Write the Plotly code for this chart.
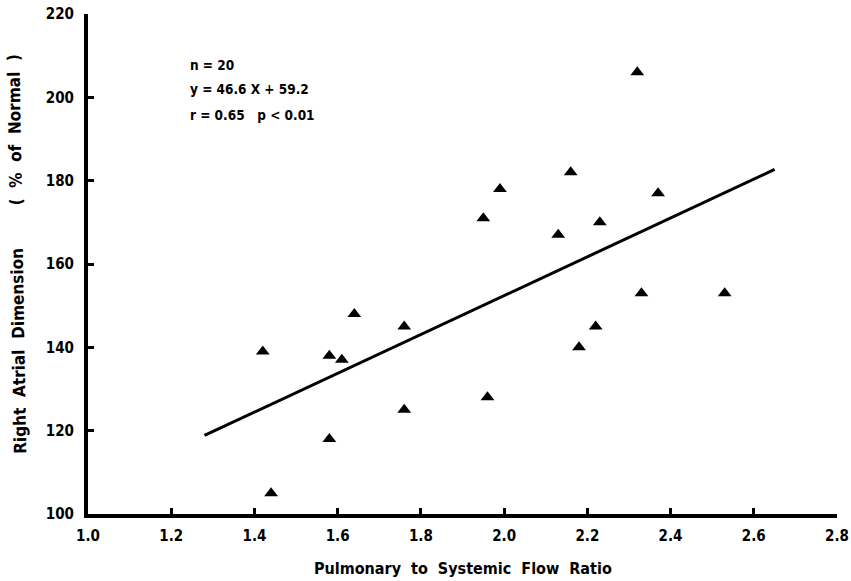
import plotly.graph_objects as go

# Data
flow_ratio = [1.64, 1.76, 1.42, 1.58, 1.61, 1.96, 1.76, 1.58, 1.44, 2.32,
              2.16, 1.99, 2.37, 1.95, 2.23, 2.13, 2.33, 2.53, 2.22, 2.18]
ra_dimension = [148, 145, 139, 138, 137, 128, 125, 118, 105, 206,
                182, 178, 177, 171, 170, 167, 153, 153, 145, 140]

slope = 46.6
intercept = 59.2
fit_x_range = [1.28, 2.65]
fit_y = [slope * x + intercept for x in fit_x_range]

x_ticks = [1.0, 1.2, 1.4, 1.6, 1.8, 2.0, 2.2, 2.4, 2.6, 2.8]
x_tick_labels = ["1.0", "1.2", "1.4", "1.6", "1.8", "2.0", "2.2", "2.4", "2.6", "2.8"]
y_ticks = [100, 120, 140, 160, 180, 200, 220]

stats_lines = ["n = 20", "y = 46.6 X + 59.2", "r = 0.65   p < 0.01"]

FONT = "DejaVu Sans Condensed, Liberation Sans Narrow, Arial Narrow, Liberation Sans, sans-serif"

fig = go.Figure()
fig.add_trace(go.Scatter(x=fit_x_range, y=fit_y, mode="lines",
                         line=dict(color="black", width=3),
                         showlegend=False, hoverinfo="skip"))
fig.add_trace(go.Scatter(x=flow_ratio, y=ra_dimension, mode="markers",
                         marker=dict(symbol="triangle-up", size=12, color="black"),
                         showlegend=False))

fig.update_layout(
    width=851, height=581,
    margin=dict(l=88, r=14, t=14, b=67, autoexpand=False),
    paper_bgcolor="white", plot_bgcolor="white",
    font=dict(family=FONT, size=14, color="black"),
    xaxis=dict(range=[1.0, 2.8], tickvals=x_ticks, ticktext=x_tick_labels,
               showline=True, linecolor="black", linewidth=3.5,
               ticks="inside", ticklen=6, tickwidth=2.5, tickcolor="black",
               showgrid=False, zeroline=False, automargin=False,
               tickfont=dict(family=FONT, size=15, color="black", weight="bold"),
               ticklabelstandoff=5),
    yaxis=dict(range=[100, 220], tickvals=y_ticks,
               showline=True, linecolor="black", linewidth=4,
               ticks="inside", ticklen=6, tickwidth=2.5, tickcolor="black",
               showgrid=False, zeroline=False, automargin=False,
               tickfont=dict(family=FONT, size=15, color="black", weight="bold"),
               ticklabelstandoff=7),
)

# Axis titles as annotations for precise placement
fig.add_annotation(text="Pulmonary  to  Systemic  Flow  Ratio",
                   xref="paper", yref="paper", x=0.50, y=-0.085,
                   xanchor="center", yanchor="top", showarrow=False,
                   font=dict(family=FONT, size=16, color="black", weight="bold"))
fig.add_annotation(text="Right  Atrial  Dimension        (  %  of  Normal  )",
                   xref="paper", yref="paper", x=-0.095, y=0.52,
                   xanchor="center", yanchor="middle", showarrow=False,
                   textangle=-91,
                   font=dict(family=FONT, size=17, color="black", weight="bold"))

stat_y = [207.8, 202.0, 195.8]
for txt, yy in zip(stats_lines, stat_y):
    fig.add_annotation(text=txt, xref="x", yref="y", x=1.24, y=yy,
                       xanchor="left", yanchor="middle", showarrow=False,
                       font=dict(family=FONT, size=13.5, color="black", weight="bold"))

fig.write_html("out.html")
